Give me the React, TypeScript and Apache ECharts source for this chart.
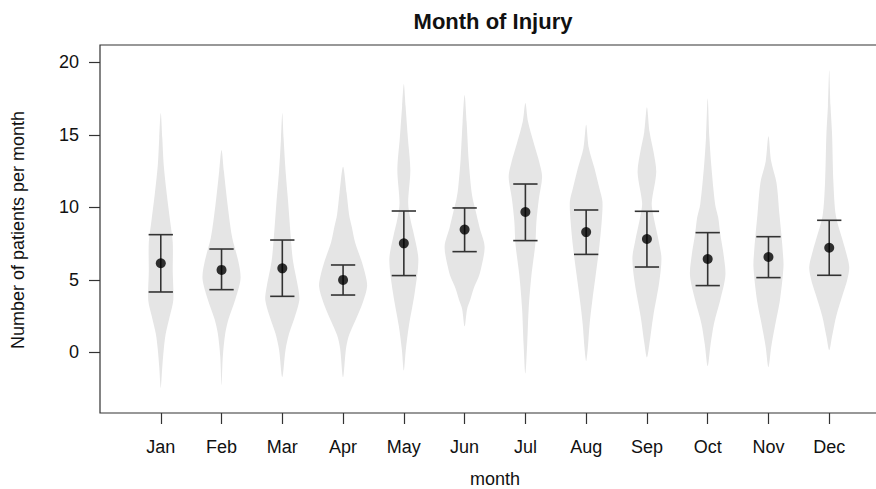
import React, { useEffect, useRef } from "react";
import * as echarts from "echarts";

const months = ["Jan", "Feb", "Mar", "Apr", "May", "Jun", "Jul", "Aug", "Sep", "Oct", "Nov", "Dec"];
const yTicks = [0, 5, 10, 15, 20];

const means = [6.15, 5.69, 5.8, 5.0, 7.52, 8.47, 9.68, 8.3, 7.82, 6.44, 6.58, 7.22];
const upper = [8.12, 7.13, 7.75, 6.03, 9.75, 9.96, 11.61, 9.82, 9.73, 8.26, 7.98, 9.11];
const lower = [4.17, 4.33, 3.87, 3.96, 5.3, 6.95, 7.71, 6.76, 5.89, 4.61, 5.16, 5.32];

// violin outline: levels (patients per month), top to bottom, and half widths (in month units)
const violinLevels = [
  [16.5, 14.8, 12.9, 10.9, 9.0, 7.6, 5.6, 3.6, 2.5, 1.3, 0.2, -1.0, -2.45],
  [13.95, 12.5, 10.2, 7.9, 6.3, 5.1, 3.7, 2.3, 1.3, -0.3, -2.25],
  [16.5, 14.8, 12.5, 10.2, 7.9, 6.3, 4.4, 3.6, 2.5, 1.3, 0.2, -1.7],
  [12.8, 11.0, 9.5, 8.67, 7.6, 6.3, 5.3, 4.55, 3.5, 2.24, 1.2, 0.3, -1.7],
  [18.5, 17.0, 14.8, 12.6, 10.3, 9.2, 8.0, 6.4, 4.1, 1.8, 0.2, -1.25],
  [17.75, 15.9, 13.3, 11.3, 10.5, 9.9, 8.6, 7.3, 5.8, 5.2, 4.4, 3.6, 3.0, 1.8],
  [17.2, 15.9, 14.4, 13.1, 12.1, 10.6, 9.0, 7.5, 5.3, 3.0, 0.6, -1.45],
  [15.7, 14.1, 12.7, 11.3, 10.4, 9.0, 7.2, 5.3, 3.5, 2.0, 0.2, -0.6],
  [16.9, 15.2, 13.8, 12.4, 10.3, 9.4, 7.6, 6.5, 4.8, 2.5, 0.6, -0.35],
  [17.5, 14.8, 12.8, 10.2, 9.3, 8.2, 6.7, 5.3, 3.6, 2.0, 0.6, -0.95],
  [14.9, 13.2, 11.7, 9.5, 8.2, 7.0, 5.9, 3.6, 2.0, 0.4, -1.0],
  [19.45, 17.0, 15.1, 11.7, 9.4, 7.75, 7.06, 5.9, 5.0, 4.1, 2.5, 1.1, 0.15],
];
const violinHalfWidths = [
  [0, 0.025, 0.049, 0.099, 0.156, 0.197, 0.197, 0.206, 0.148, 0.082, 0.049, 0.025, 0],
  [0, 0.038, 0.099, 0.176, 0.275, 0.313, 0.23, 0.115, 0.061, 0.021, 0],
  [0, 0.021, 0.054, 0.099, 0.14, 0.176, 0.263, 0.28, 0.209, 0.112, 0.054, 0],
  [0, 0.058, 0.099, 0.143, 0.197, 0.304, 0.37, 0.395, 0.329, 0.206, 0.099, 0.049, 0],
  [0, 0.028, 0.066, 0.107, 0.071, 0.107, 0.173, 0.239, 0.178, 0.082, 0.033, 0],
  [0, 0.033, 0.066, 0.107, 0.137, 0.173, 0.247, 0.329, 0.271, 0.23, 0.148, 0.09, 0.041, 0],
  [0, 0.044, 0.14, 0.23, 0.275, 0.222, 0.181, 0.164, 0.099, 0.054, 0.03, 0],
  [0, 0.044, 0.137, 0.219, 0.268, 0.255, 0.214, 0.156, 0.099, 0.058, 0.025, 0],
  [0, 0.044, 0.11, 0.153, 0.079, 0.107, 0.197, 0.239, 0.201, 0.104, 0.041, 0],
  [0, 0.028, 0.061, 0.123, 0.173, 0.206, 0.263, 0.291, 0.206, 0.104, 0.049, 0],
  [0, 0.044, 0.132, 0.181, 0.211, 0.235, 0.247, 0.189, 0.115, 0.046, 0],
  [0, 0.021, 0.046, 0.069, 0.11, 0.219, 0.266, 0.329, 0.296, 0.23, 0.115, 0.046, 0],
];

const FONT = "'Liberation Sans', Arial, Helvetica, sans-serif";
const INK = "#111111";

export default function App() {
  const ref = useRef<HTMLDivElement>(null);
  useEffect(() => {
    if (!ref.current) return;
    const chart = echarts.init(ref.current, null, { renderer: "svg" });
    const option: any = {
      animation: false,
      backgroundColor: "#ffffff",
      textStyle: { fontFamily: FONT },
      grid: {
        left: 100, top: 45, width: 790, height: 368,
        show: true, borderColor: "#333", borderWidth: 1.2, backgroundColor: "transparent",
      },
      xAxis: {
        type: "value", min: 0, max: 13,
        axisLine: { show: false, onZero: false },
        splitLine: { show: false },
        axisTick: { show: true, length: 11, lineStyle: { color: "#333", width: 1.2 }, customValues: months.map((_, i) => i + 1) },
        axisLabel: {
          margin: 25, fontSize: 18, color: INK, fontFamily: FONT,
          customValues: months.map((_, i) => i + 1),
          formatter: (v: number) => months[Math.round(v) - 1] ?? "",
        },
      },
      yAxis: {
        type: "value", min: -4.17, max: 21.19,
        axisLine: { show: false, onZero: false },
        splitLine: { show: false },
        axisTick: { show: true, length: 11, lineStyle: { color: "#333", width: 1.2 }, customValues: yTicks },
        axisLabel: { margin: 21, fontSize: 18, color: INK, fontFamily: FONT, customValues: yTicks },
      },
      graphic: [
        { type: "text", x: 493, y: 21, style: { text: "Month of Injury", fill: INK, font: `bold 22px ${FONT}`, textAlign: "center", textVerticalAlign: "middle" } },
        { type: "text", x: 495, y: 479, style: { text: "month", fill: INK, font: `18px ${FONT}`, textAlign: "center", textVerticalAlign: "middle" } },
        { type: "text", x: 18, y: 230, rotation: Math.PI / 2, style: { text: "Number of patients per month", fill: INK, font: `18px ${FONT}`, textAlign: "center", textVerticalAlign: "middle" } },
      ],
      series: [
        {
          type: "custom",
          name: "violin",
          silent: true,
          data: months.map((_, i) => [i]),
          renderItem: (params: any, api: any) => {
            const i = api.value(0);
            const ys = violinLevels[i];
            const ws = violinHalfWidths[i];
            const pos = i + 1;
            const pts: number[][] = [];
            for (let k = 0; k < ys.length; k++) pts.push(api.coord([pos - ws[k], ys[k]]));
            for (let k = ys.length - 2; k >= 1; k--) pts.push(api.coord([pos + ws[k], ys[k]]));
            return {
              type: "polygon",
              shape: { points: pts, smooth: 0.3 },
              style: { fill: "#e5e5e5", stroke: "none" },
            };
          },
          z: 1,
        },
        {
          type: "custom",
          name: "error",
          silent: true,
          data: months.map((_, i) => [i + 1, lower[i], upper[i]]),
          renderItem: (params: any, api: any) => {
            const x = api.value(0);
            const lo = api.coord([x, api.value(1)]);
            const hi = api.coord([x, api.value(2)]);
            const loL = api.coord([x - 0.2, api.value(1)]);
            const loR = api.coord([x + 0.2, api.value(1)]);
            const hiL = api.coord([x - 0.2, api.value(2)]);
            const hiR = api.coord([x + 0.2, api.value(2)]);
            const st = { stroke: "#333", lineWidth: 1.6 };
            return {
              type: "group",
              children: [
                { type: "line", shape: { x1: lo[0], y1: lo[1], x2: hi[0], y2: hi[1] }, style: st },
                { type: "line", shape: { x1: loL[0], y1: loL[1], x2: loR[0], y2: loR[1] }, style: st },
                { type: "line", shape: { x1: hiL[0], y1: hiL[1], x2: hiR[0], y2: hiR[1] }, style: st },
              ],
            };
          },
          z: 2,
        },
        {
          type: "scatter",
          name: "mean",
          silent: true,
          symbol: "circle",
          symbolSize: 10,
          itemStyle: { color: "#000" },
          data: months.map((_, i) => [i + 1, means[i]]),
          z: 3,
        },
      ],
    };
    chart.setOption(option);
    return () => chart.dispose();
  }, []);
  return (
    <div style={{ position: "absolute", left: 0, top: 0, width: 876, height: 489, overflow: "hidden", background: "#fff" }}>
      <div ref={ref} style={{ width: 910, height: 489 }} />
    </div>
  );
}
